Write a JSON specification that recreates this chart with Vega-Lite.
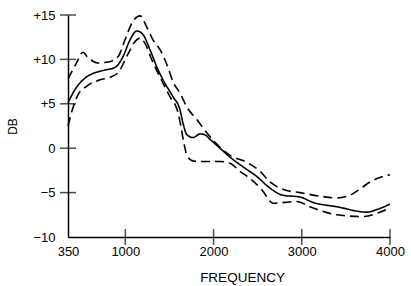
{
  "$schema": "https://vega.github.io/schema/vega-lite/v6.json",
  "width": 322,
  "height": 222,
  "autosize": "none",
  "padding": {"left": 68, "top": 15, "right": 21, "bottom": 49},
  "background": "white",
  "config": {"view": {"stroke": null}, "font": "Liberation Sans"},
  "layer": [
    {
      "data": {"values": [
        {"series": "upper", "f": 350, "db": 7.8},
        {"series": "upper", "f": 441, "db": 9.5},
        {"series": "upper", "f": 520, "db": 10.8},
        {"series": "upper", "f": 577, "db": 10.2},
        {"series": "upper", "f": 633, "db": 9.8},
        {"series": "upper", "f": 690, "db": 9.6},
        {"series": "upper", "f": 803, "db": 9.7},
        {"series": "upper", "f": 917, "db": 10.3},
        {"series": "upper", "f": 996, "db": 12.2},
        {"series": "upper", "f": 1075, "db": 14.1},
        {"series": "upper", "f": 1166, "db": 14.9},
        {"series": "upper", "f": 1245, "db": 13.6},
        {"series": "upper", "f": 1313, "db": 12.2},
        {"series": "upper", "f": 1393, "db": 11.1},
        {"series": "upper", "f": 1472, "db": 9.4},
        {"series": "upper", "f": 1540, "db": 7.5},
        {"series": "upper", "f": 1620, "db": 6.2},
        {"series": "upper", "f": 1699, "db": 4.6},
        {"series": "upper", "f": 1812, "db": 3.2},
        {"series": "upper", "f": 1926, "db": 1.7},
        {"series": "upper", "f": 2073, "db": 0.1},
        {"series": "upper", "f": 2186, "db": -0.8},
        {"series": "upper", "f": 2379, "db": -1.6},
        {"series": "upper", "f": 2526, "db": -2.6},
        {"series": "upper", "f": 2640, "db": -3.8},
        {"series": "upper", "f": 2810, "db": -4.7},
        {"series": "upper", "f": 2980, "db": -5.0},
        {"series": "upper", "f": 3206, "db": -5.4},
        {"series": "upper", "f": 3399, "db": -5.6},
        {"series": "upper", "f": 3546, "db": -5.3},
        {"series": "upper", "f": 3660, "db": -4.6},
        {"series": "upper", "f": 3773, "db": -3.8},
        {"series": "upper", "f": 3886, "db": -3.3},
        {"series": "upper", "f": 4000, "db": -3.0},
        {"series": "solid", "f": 350, "db": 5.1},
        {"series": "solid", "f": 429, "db": 6.6},
        {"series": "solid", "f": 543, "db": 7.9},
        {"series": "solid", "f": 656, "db": 8.5},
        {"series": "solid", "f": 769, "db": 8.8},
        {"series": "solid", "f": 883, "db": 9.1},
        {"series": "solid", "f": 973, "db": 10.3},
        {"series": "solid", "f": 1053, "db": 12.2},
        {"series": "solid", "f": 1132, "db": 13.2},
        {"series": "solid", "f": 1200, "db": 12.8},
        {"series": "solid", "f": 1279, "db": 11.1},
        {"series": "solid", "f": 1359, "db": 9.1},
        {"series": "solid", "f": 1427, "db": 7.7},
        {"series": "solid", "f": 1540, "db": 5.8},
        {"series": "solid", "f": 1620, "db": 4.3},
        {"series": "solid", "f": 1654, "db": 2.8},
        {"series": "solid", "f": 1699, "db": 1.5},
        {"series": "solid", "f": 1767, "db": 1.2},
        {"series": "solid", "f": 1846, "db": 1.6},
        {"series": "solid", "f": 1903, "db": 1.5},
        {"series": "solid", "f": 1960, "db": 1.0},
        {"series": "solid", "f": 2073, "db": 0.0},
        {"series": "solid", "f": 2186, "db": -1.0},
        {"series": "solid", "f": 2334, "db": -2.1},
        {"series": "solid", "f": 2492, "db": -3.2},
        {"series": "solid", "f": 2640, "db": -4.5},
        {"series": "solid", "f": 2787, "db": -5.3},
        {"series": "solid", "f": 2980, "db": -5.5},
        {"series": "solid", "f": 3127, "db": -6.1},
        {"series": "solid", "f": 3399, "db": -6.6},
        {"series": "solid", "f": 3739, "db": -7.2},
        {"series": "solid", "f": 3853, "db": -6.9},
        {"series": "solid", "f": 4000, "db": -6.3},
        {"series": "lower", "f": 350, "db": 2.5},
        {"series": "lower", "f": 395, "db": 4.2},
        {"series": "lower", "f": 463, "db": 6.0},
        {"series": "lower", "f": 565, "db": 7.0},
        {"series": "lower", "f": 713, "db": 7.7},
        {"series": "lower", "f": 826, "db": 8.0},
        {"series": "lower", "f": 917, "db": 8.5},
        {"series": "lower", "f": 1030, "db": 10.6},
        {"series": "lower", "f": 1109, "db": 12.0},
        {"series": "lower", "f": 1166, "db": 12.4},
        {"series": "lower", "f": 1223, "db": 11.8},
        {"series": "lower", "f": 1302, "db": 9.9},
        {"series": "lower", "f": 1393, "db": 8.0},
        {"series": "lower", "f": 1506, "db": 5.8},
        {"series": "lower", "f": 1597, "db": 4.0},
        {"series": "lower", "f": 1631, "db": 2.4},
        {"series": "lower", "f": 1665, "db": 0.5},
        {"series": "lower", "f": 1699, "db": -0.8},
        {"series": "lower", "f": 1756, "db": -1.4},
        {"series": "lower", "f": 1846, "db": -1.5},
        {"series": "lower", "f": 2073, "db": -1.5},
        {"series": "lower", "f": 2186, "db": -1.7},
        {"series": "lower", "f": 2300, "db": -2.6},
        {"series": "lower", "f": 2436, "db": -3.6},
        {"series": "lower", "f": 2549, "db": -4.7},
        {"series": "lower", "f": 2674, "db": -6.2},
        {"series": "lower", "f": 2810, "db": -6.1},
        {"series": "lower", "f": 2946, "db": -6.0},
        {"series": "lower", "f": 3093, "db": -6.6},
        {"series": "lower", "f": 3399, "db": -7.5},
        {"series": "lower", "f": 3694, "db": -7.7},
        {"series": "lower", "f": 3886, "db": -7.2},
        {"series": "lower", "f": 4000, "db": -6.7}
      ]},
      "mark": {"type": "line", "interpolate": "monotone", "color": "black", "strokeWidth": 1.6},
      "encoding": {
        "x": {
          "field": "f", "type": "quantitative",
          "scale": {"domain": [350, 4000], "nice": false, "zero": false},
          "axis": {
            "values": [350, 1000, 2000, 3000, 4000],
            "format": "d",
            "labelFlush": false,
            "labelOverlap": false,
            "title": "FREQUENCY",
            "titleX": 174,
            "grid": false,
            "domainColor": "black", "domainWidth": 1.5,
            "ticks": false, "tickSize": 0,
            "labelPadding": 8, "labelFontSize": 13, "labelColor": "black",
            "titleFontSize": 13.5, "titleFontWeight": "normal", "titleColor": "black",
            "titlePadding": 12
          }
        },
        "y": {
          "field": "db", "type": "quantitative",
          "scale": {"domain": [-10, 15], "nice": false, "zero": false},
          "axis": {
            "values": [-10, -5, 0, 5, 10, 15],
            "labelExpr": "datum.value > 0 ? '+' + datum.value : datum.label",
            "labelFlush": false,
            "labelOverlap": false,
            "title": "DB",
            "grid": false,
            "domainColor": "black", "domainWidth": 1.5,
            "ticks": false, "tickSize": 0,
            "labelPadding": 13, "labelFontSize": 13, "labelColor": "black",
            "titleFontSize": 12, "titleFontWeight": "normal", "titleColor": "black",
            "titlePadding": 13
          }
        },
        "detail": {"field": "series"},
        "strokeDash": {
          "field": "series", "type": "nominal",
          "scale": {"domain": ["upper", "solid", "lower"], "range": [[9, 5], [1, 0], [9, 5]]},
          "legend": null
        }
      }
    },
    {
      "data": {"values": [{"v": 1000}, {"v": 2000}, {"v": 3000}, {"v": 4000}]},
      "mark": {"type": "tick", "color": "black", "thickness": 1.5, "size": 16, "orient": "vertical"},
      "encoding": {
        "x": {"field": "v", "type": "quantitative"},
        "y": {"datum": -10}
      }
    },
    {
      "data": {"values": [{"v": -5}, {"v": 0}, {"v": 5}, {"v": 10}, {"v": 15}]},
      "mark": {"type": "tick", "color": "black", "thickness": 1.5, "size": 16, "orient": "horizontal"},
      "encoding": {
        "y": {"field": "v", "type": "quantitative"},
        "x": {"datum": 350}
      }
    }
  ]
}
